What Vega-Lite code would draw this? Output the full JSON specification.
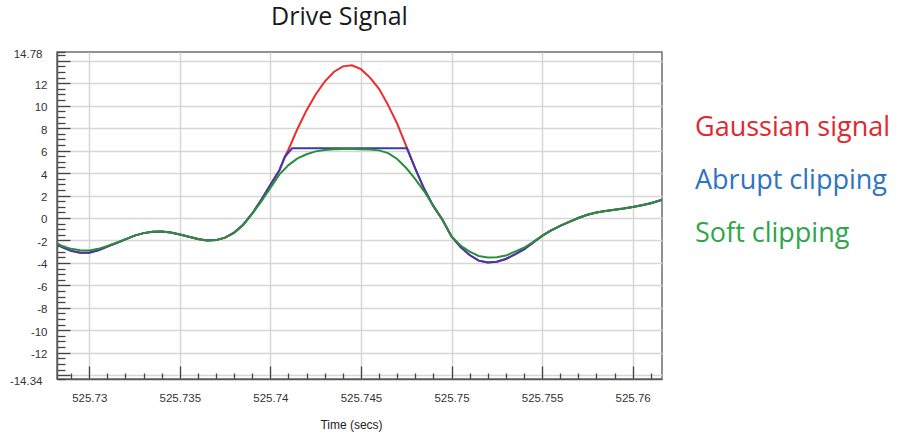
{
  "$schema": "https://vega.github.io/schema/vega-lite/v6.json",
  "width": 605,
  "height": 327,
  "autosize": "none",
  "padding": {"left": 57, "top": 52, "right": 239, "bottom": 58},
  "background": "white",
  "config": {
    "view": {"stroke": "#6e6e6e", "strokeWidth": 1.5},
    "axis": {"labelFont": "Liberation Sans", "titleFont": "Liberation Sans"}
  },
  "title": {
    "text": "Drive Signal",
    "font": "Open Sans",
    "fontSize": 25,
    "fontWeight": "normal",
    "color": "#1a1a1a",
    "anchor": "middle",
    "frame": "group",
    "baseline": "bottom",
    "offset": -7,
    "dx": -20
  },
  "datasets": {
    "gauss": [
      {"t": 525.72822, "v": -2.3}, {"t": 525.7285, "v": -2.6}, {"t": 525.729, "v": -2.93}, {"t": 525.7295, "v": -3.1},
      {"t": 525.73, "v": -3.1}, {"t": 525.7305, "v": -2.88}, {"t": 525.731, "v": -2.55}, {"t": 525.7315, "v": -2.24},
      {"t": 525.732, "v": -1.9}, {"t": 525.7325, "v": -1.57}, {"t": 525.733, "v": -1.35}, {"t": 525.7335, "v": -1.23},
      {"t": 525.734, "v": -1.2}, {"t": 525.7345, "v": -1.3}, {"t": 525.735, "v": -1.48}, {"t": 525.7355, "v": -1.68},
      {"t": 525.736, "v": -1.88}, {"t": 525.7365, "v": -2.0}, {"t": 525.737, "v": -1.97}, {"t": 525.7375, "v": -1.75},
      {"t": 525.738, "v": -1.3}, {"t": 525.7385, "v": -0.6}, {"t": 525.739, "v": 0.4}, {"t": 525.7395, "v": 1.62},
      {"t": 525.74, "v": 2.95}, {"t": 525.7405, "v": 4.25}, {"t": 525.7408, "v": 5.45}, {"t": 525.741, "v": 6.1},
      {"t": 525.7415, "v": 7.95}, {"t": 525.742, "v": 9.6}, {"t": 525.7425, "v": 11.0}, {"t": 525.743, "v": 12.15},
      {"t": 525.7435, "v": 13.0}, {"t": 525.744, "v": 13.5}, {"t": 525.7445, "v": 13.6}, {"t": 525.745, "v": 13.25},
      {"t": 525.7455, "v": 12.5}, {"t": 525.746, "v": 11.5}, {"t": 525.7465, "v": 10.05}, {"t": 525.747, "v": 8.4},
      {"t": 525.7475, "v": 6.4}, {"t": 525.748, "v": 4.4}, {"t": 525.7485, "v": 2.55}, {"t": 525.749, "v": 1.05},
      {"t": 525.7495, "v": -0.15}, {"t": 525.75, "v": -1.65}, {"t": 525.7505, "v": -2.6}, {"t": 525.751, "v": -3.3},
      {"t": 525.7515, "v": -3.8}, {"t": 525.752, "v": -3.97}, {"t": 525.7525, "v": -3.9}, {"t": 525.753, "v": -3.65},
      {"t": 525.7535, "v": -3.25}, {"t": 525.754, "v": -2.8}, {"t": 525.7545, "v": -2.2}, {"t": 525.755, "v": -1.6},
      {"t": 525.7555, "v": -1.1}, {"t": 525.756, "v": -0.7}, {"t": 525.7565, "v": -0.35}, {"t": 525.757, "v": 0.0},
      {"t": 525.7575, "v": 0.28}, {"t": 525.758, "v": 0.48}, {"t": 525.7585, "v": 0.63}, {"t": 525.759, "v": 0.74},
      {"t": 525.7595, "v": 0.84}, {"t": 525.76, "v": 0.98}, {"t": 525.7605, "v": 1.13}, {"t": 525.761, "v": 1.31},
      {"t": 525.7615, "v": 1.55}, {"t": 525.76162, "v": 1.62}
    ],
    "abrupt": [
      {"t": 525.72822, "v": -2.3}, {"t": 525.7285, "v": -2.6}, {"t": 525.729, "v": -2.93}, {"t": 525.7295, "v": -3.1},
      {"t": 525.73, "v": -3.1}, {"t": 525.7305, "v": -2.88}, {"t": 525.731, "v": -2.55}, {"t": 525.7315, "v": -2.24},
      {"t": 525.732, "v": -1.9}, {"t": 525.7325, "v": -1.57}, {"t": 525.733, "v": -1.35}, {"t": 525.7335, "v": -1.23},
      {"t": 525.734, "v": -1.2}, {"t": 525.7345, "v": -1.3}, {"t": 525.735, "v": -1.48}, {"t": 525.7355, "v": -1.68},
      {"t": 525.736, "v": -1.88}, {"t": 525.7365, "v": -2.0}, {"t": 525.737, "v": -1.97}, {"t": 525.7375, "v": -1.75},
      {"t": 525.738, "v": -1.3}, {"t": 525.7385, "v": -0.6}, {"t": 525.739, "v": 0.4}, {"t": 525.7395, "v": 1.62},
      {"t": 525.74, "v": 2.95}, {"t": 525.7405, "v": 4.25}, {"t": 525.7408, "v": 5.45}, {"t": 525.7412, "v": 6.2},
      {"t": 525.74754, "v": 6.2}, {"t": 525.748, "v": 4.4}, {"t": 525.7485, "v": 2.55}, {"t": 525.749, "v": 1.05},
      {"t": 525.7495, "v": -0.15}, {"t": 525.75, "v": -1.65}, {"t": 525.7505, "v": -2.6}, {"t": 525.751, "v": -3.3},
      {"t": 525.7515, "v": -3.8}, {"t": 525.752, "v": -3.97}, {"t": 525.7525, "v": -3.9}, {"t": 525.753, "v": -3.65},
      {"t": 525.7535, "v": -3.25}, {"t": 525.754, "v": -2.8}, {"t": 525.7545, "v": -2.2}, {"t": 525.755, "v": -1.6},
      {"t": 525.7555, "v": -1.1}, {"t": 525.756, "v": -0.7}, {"t": 525.7565, "v": -0.35}, {"t": 525.757, "v": 0.0},
      {"t": 525.7575, "v": 0.28}, {"t": 525.758, "v": 0.48}, {"t": 525.7585, "v": 0.63}, {"t": 525.759, "v": 0.74},
      {"t": 525.7595, "v": 0.84}, {"t": 525.76, "v": 0.98}, {"t": 525.7605, "v": 1.13}, {"t": 525.761, "v": 1.31},
      {"t": 525.7615, "v": 1.55}, {"t": 525.76162, "v": 1.62}
    ],
    "soft": [
      {"t": 525.72822, "v": -2.25}, {"t": 525.7285, "v": -2.5}, {"t": 525.729, "v": -2.75}, {"t": 525.7295, "v": -2.88},
      {"t": 525.73, "v": -2.9}, {"t": 525.7305, "v": -2.75}, {"t": 525.731, "v": -2.5}, {"t": 525.7315, "v": -2.2},
      {"t": 525.732, "v": -1.9}, {"t": 525.7325, "v": -1.57}, {"t": 525.733, "v": -1.35}, {"t": 525.7335, "v": -1.23},
      {"t": 525.734, "v": -1.2}, {"t": 525.7345, "v": -1.3}, {"t": 525.735, "v": -1.48}, {"t": 525.7355, "v": -1.68},
      {"t": 525.736, "v": -1.88}, {"t": 525.7365, "v": -2.0}, {"t": 525.737, "v": -1.97}, {"t": 525.7375, "v": -1.75},
      {"t": 525.738, "v": -1.3}, {"t": 525.7385, "v": -0.6}, {"t": 525.739, "v": 0.38}, {"t": 525.7395, "v": 1.47},
      {"t": 525.74, "v": 2.68}, {"t": 525.7405, "v": 3.88}, {"t": 525.741, "v": 4.71}, {"t": 525.7415, "v": 5.3},
      {"t": 525.742, "v": 5.67}, {"t": 525.7425, "v": 5.93}, {"t": 525.743, "v": 6.06}, {"t": 525.7435, "v": 6.12},
      {"t": 525.744, "v": 6.14}, {"t": 525.7445, "v": 6.14}, {"t": 525.745, "v": 6.12}, {"t": 525.7455, "v": 6.09},
      {"t": 525.746, "v": 6.02}, {"t": 525.7465, "v": 5.78}, {"t": 525.747, "v": 5.25}, {"t": 525.7475, "v": 4.45},
      {"t": 525.748, "v": 3.45}, {"t": 525.7485, "v": 2.35}, {"t": 525.749, "v": 1.08}, {"t": 525.7495, "v": -0.15},
      {"t": 525.75, "v": -1.65}, {"t": 525.7505, "v": -2.45}, {"t": 525.751, "v": -3.0}, {"t": 525.7515, "v": -3.38},
      {"t": 525.752, "v": -3.52}, {"t": 525.7525, "v": -3.5}, {"t": 525.753, "v": -3.35}, {"t": 525.7535, "v": -3.0},
      {"t": 525.754, "v": -2.65}, {"t": 525.7545, "v": -2.15}, {"t": 525.755, "v": -1.6},
      {"t": 525.7555, "v": -1.1}, {"t": 525.756, "v": -0.7}, {"t": 525.7565, "v": -0.35}, {"t": 525.757, "v": 0.0},
      {"t": 525.7575, "v": 0.28}, {"t": 525.758, "v": 0.48}, {"t": 525.7585, "v": 0.63}, {"t": 525.759, "v": 0.74},
      {"t": 525.7595, "v": 0.84}, {"t": 525.76, "v": 0.98}, {"t": 525.7605, "v": 1.13}, {"t": 525.761, "v": 1.31},
      {"t": 525.7615, "v": 1.55}, {"t": 525.76162, "v": 1.62}
    ]
  },
  "encoding": {
    "x": {
      "field": "t",
      "type": "quantitative",
      "scale": {"domain": [525.72822, 525.76162], "nice": false, "zero": false},
      "axis": {
        "title": "Time (secs)",
        "titleFontSize": 12,
        "titleFontWeight": "normal",
        "titleColor": "#222222",
        "titleX": 294,
        "titleY": 49,
        "titleBaseline": "alphabetic",
        "values": [525.729, 525.73, 525.731, 525.732, 525.733, 525.734, 525.735, 525.736, 525.737, 525.738, 525.739, 525.74, 525.741, 525.742, 525.743, 525.744, 525.745, 525.746, 525.747, 525.748, 525.749, 525.75, 525.751, 525.752, 525.753, 525.754, 525.755, 525.756, 525.757, 525.758, 525.759, 525.76, 525.761],
        "labelExpr": "abs(datum.value*200 - round(datum.value*200)) < 0.001 ? '' + datum.value : ''",
        "labelOverlap": false,
        "labelFlush": false,
        "labelFontSize": 11.5,
        "labelColor": "#333333",
        "labelPadding": 26,
        "grid": true,
        "gridColor": "#d6d6d6",
        "gridWidth": 1.5,
        "gridOpacity": {"condition": {"test": "abs(datum.value*200 - round(datum.value*200)) < 0.001", "value": 1}, "value": 0},
        "tickSize": {"condition": {"test": "abs(datum.value*200 - round(datum.value*200)) < 0.001", "value": -13}, "value": -6},
        "tickColor": "#444444",
        "tickWidth": 1.3,
        "domainColor": "#5a5a5a",
        "domainWidth": 1.5
      }
    },
    "y": {
      "field": "v",
      "type": "quantitative",
      "scale": {"domain": [-14.34, 14.78], "nice": false, "zero": false},
      "axis": {
        "title": null,
        "values": [-14.34, -14, -13.5, -13, -12.5, -12, -11.5, -11, -10.5, -10, -9.5, -9, -8.5, -8, -7.5, -7, -6.5, -6, -5.5, -5, -4.5, -4, -3.5, -3, -2.5, -2, -1.5, -1, -0.5, 0, 0.5, 1, 1.5, 2, 2.5, 3, 3.5, 4, 4.5, 5, 5.5, 6, 6.5, 7, 7.5, 8, 8.5, 9, 9.5, 10, 10.5, 11, 11.5, 12, 12.5, 13, 13.5, 14, 14.5, 14.78],
        "labelExpr": "(datum.value == 14.78 || datum.value == -14.34 || (datum.value % 2 == 0 && abs(datum.value) <= 12)) ? '' + datum.value : ''",
        "labelOverlap": false,
        "labelFlush": false,
        "labelFontSize": 11.5,
        "labelColor": "#333333",
        "labelPadding": 23,
        "labelOffset": 2,
        "grid": true,
        "gridColor": "#d6d6d6",
        "gridWidth": 1.5,
        "gridOpacity": {"condition": {"test": "datum.value % 2 == 0", "value": 1}, "value": 0},
        "tickSize": {"condition": {"test": "datum.value % 2 == 0", "value": -13}, "value": -8},
        "tickColor": "#444444",
        "tickWidth": 1.3,
        "domainColor": "#5a5a5a",
        "domainWidth": 1.5
      }
    },
    "color": {
      "type": "nominal",
      "scale": {
        "domain": ["Gaussian signal", "Abrupt clipping", "Soft clipping"],
        "range": ["#ee2a2a", "#3a3ab2", "#2b8e3d"]
      },
      "legend": {
        "title": null,
        "orient": "none",
        "legendX": 611,
        "legendY": 62,
        "symbolSize": 1,
        "symbolOpacity": 0,
        "symbolStrokeWidth": 0,
        "labelOffset": 0,
        "labelFont": "Open Sans",
        "labelFontSize": 27,
        "labelLimit": 400,
        "rowPadding": 25,
        "padding": 0,
        "encode": {
          "labels": {
            "update": {
              "fill": {"signal": "datum.value === 'Gaussian signal' ? '#e0282e' : datum.value === 'Abrupt clipping' ? '#2e74c0' : '#2ea64a'"}
            }
          }
        }
      }
    }
  },
  "layer": [
    {"data": {"name": "gauss"}, "mark": {"type": "line", "strokeWidth": 2, "clip": true}, "encoding": {"color": {"datum": "Gaussian signal"}}},
    {"data": {"name": "abrupt"}, "mark": {"type": "line", "strokeWidth": 2, "clip": true}, "encoding": {"color": {"datum": "Abrupt clipping"}}},
    {"data": {"name": "soft"}, "mark": {"type": "line", "strokeWidth": 2, "clip": true}, "encoding": {"color": {"datum": "Soft clipping"}}}
  ]
}
